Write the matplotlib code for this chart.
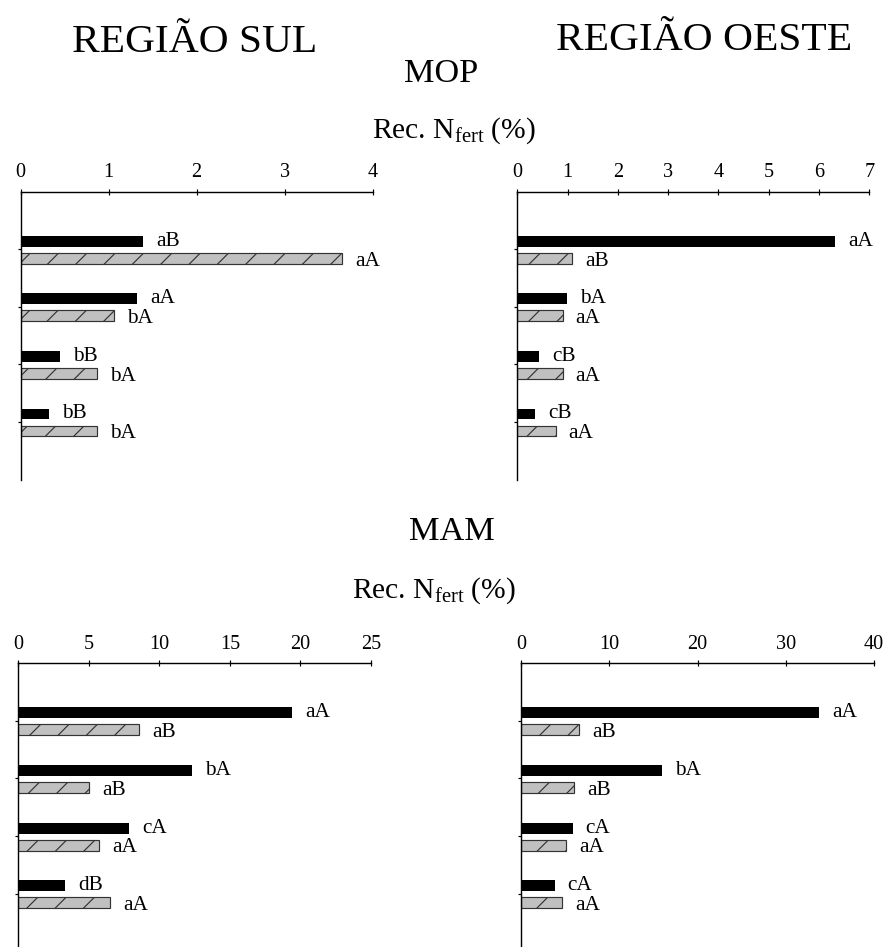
import numpy as np
import matplotlib
matplotlib.use('Agg')
import matplotlib.pyplot as plt

plt.rcParams['font.family'] = ['Liberation Serif', 'DejaVu Serif']
plt.rcParams['mathtext.fontset'] = 'custom'
plt.rcParams['mathtext.rm'] = 'Liberation Serif'
plt.rcParams['mathtext.it'] = 'Liberation Serif:italic'
plt.rcParams['hatch.linewidth'] = 0.5

# 4 treatments per panel, black = first series, grey hatched = second
groups = ['T1', 'T2', 'T3', 'T4']

# MOP - regiao sul
sul_mop_black = [1.39, 1.32, 0.45, 0.32]
sul_mop_gray = [3.65, 1.06, 0.87, 0.87]
sul_mop_lab_black = ['aB', 'aA', 'bB', 'bB']
sul_mop_lab_gray = ['aA', 'bA', 'bA', 'bA']

# MOP - regiao oeste
oes_mop_black = [6.32, 0.99, 0.43, 0.35]
oes_mop_gray = [1.09, 0.90, 0.90, 0.76]
oes_mop_lab_black = ['aA', 'bA', 'cB', 'cB']
oes_mop_lab_gray = ['aB', 'aA', 'aA', 'aA']

# MAM - regiao sul
sul_mam_black = [19.4, 12.3, 7.84, 3.33]
sul_mam_gray = [8.58, 5.03, 5.74, 6.52]
sul_mam_lab_black = ['aA', 'bA', 'cA', 'dB']
sul_mam_lab_gray = ['aB', 'aB', 'aA', 'aA']

# MAM - regiao oeste
oes_mam_black = [33.8, 16.0, 5.82, 3.78]
oes_mam_gray = [6.58, 5.97, 5.10, 4.65]
oes_mam_lab_black = ['aA', 'bA', 'cA', 'cA']
oes_mam_lab_gray = ['aB', 'aB', 'aA', 'aA']

DPI = 170
fig = plt.figure(figsize=(887 / DPI, 947 / DPI), dpi=DPI)


def panel(rect, black, gray, lab_b, lab_g, xmax, xstep, ybottom=5.0):
    ax = fig.add_axes(rect)
    y = np.arange(1, len(groups) + 1)
    ax.barh(y - 0.14, black, height=0.19, color='black', linewidth=0)
    ax.barh(y + 0.155, gray, height=0.19, color='#c0c0c0', edgecolor='#333333',
            linewidth=0.5, hatch='//')
    for yi, v, t in zip(y, black, lab_b):
        ax.annotate(t, (v, yi - 0.14), xytext=(5.5, 0), textcoords='offset points',
                    va='center', ha='left', fontsize=9)
    for yi, v, t in zip(y, gray, lab_g):
        ax.annotate(t, (v, yi + 0.155), xytext=(5.5, -1.2), textcoords='offset points',
                    va='center', ha='left', fontsize=9)
    ax.set_xlim(0, xmax)
    ax.set_ylim(ybottom, 0)
    ax.set_xticks(np.arange(0, xmax + 0.001, xstep))
    ax.set_yticks(y)
    ax.set_yticklabels([])
    ax.xaxis.tick_top()
    ax.tick_params(axis='x', direction='inout', length=2.2, width=0.5, pad=2.8,
                   labelsize=8.6)
    ax.tick_params(axis='y', direction='out', length=1.2, width=0.5)
    for s in ['right', 'bottom']:
        ax.spines[s].set_visible(False)
    for s in ['top', 'left']:
        ax.spines[s].set_linewidth(0.6)
    ax.patch.set_alpha(0)
    return ax


panel([0.0233, 0.4935, 0.3968, 0.3041], sul_mop_black, sul_mop_gray,
      sul_mop_lab_black, sul_mop_lab_gray, 4, 1)
panel([0.5832, 0.4935, 0.3968, 0.3041], oes_mop_black, oes_mop_gray,
      oes_mop_lab_black, oes_mop_lab_gray, 7, 1)
panel([0.0206, 0.0, 0.3977, 0.2996], sul_mam_black, sul_mam_gray,
      sul_mam_lab_black, sul_mam_lab_gray, 25, 5, ybottom=4.925)
panel([0.5877, 0.0, 0.3976, 0.2996], oes_mam_black, oes_mam_gray,
      oes_mam_lab_black, oes_mam_lab_gray, 40, 10, ybottom=4.925)

fig.text(0.2193, 0.9454, 'REGIÃO SUL', ha='center', va='baseline', fontsize=17.5)
fig.text(0.7943, 0.9472, 'REGIÃO OESTE', ha='center', va='baseline', fontsize=17.5)
fig.text(0.4977, 0.9134, 'MOP', ha='center', va='baseline', fontsize=14.5)
fig.text(0.5092, 0.4298, 'MAM', ha='center', va='baseline', fontsize=14.5)
rec = r'Rec. N$_{\mathrm{fert}}$ (%)'
fig.text(0.5113, 0.8543, rec, ha='center', va='baseline', fontsize=12.5)
fig.text(0.4893, 0.3685, rec, ha='center', va='baseline', fontsize=12.5)

fig.savefig('out.png', dpi=DPI, facecolor='white')
